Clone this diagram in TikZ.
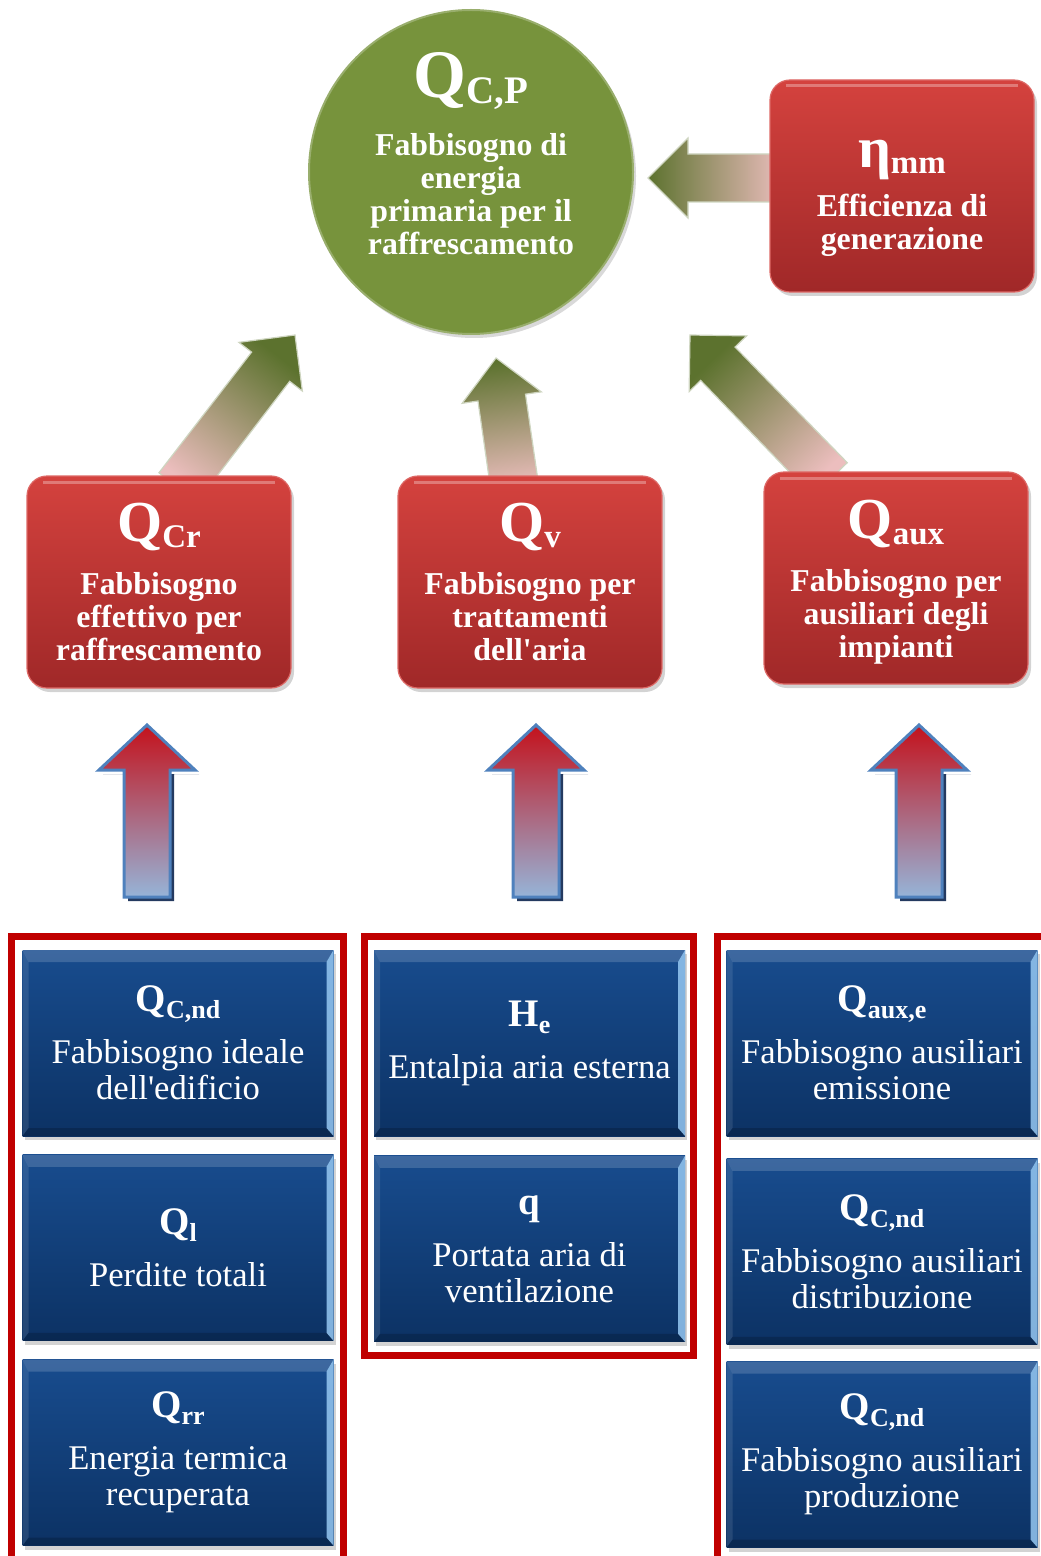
\documentclass[tikz,border=0pt]{standalone}
\usepackage{fontspec}
\setmainfont{Liberation Serif}[Ligatures=TeXOff]
\usetikzlibrary{positioning, calc, shadows, backgrounds}

\definecolor{boxred}{RGB}{212,66,62}
\definecolor{boxreddark}{RGB}{160,40,40}
\definecolor{ballgreen}{RGB}{119,147,60}
\definecolor{tipgreen}{RGB}{92,114,46}
\definecolor{tailpink}{RGB}{236,190,190}
\definecolor{boxblue}{RGB}{24,76,142}
\definecolor{boxbluedark}{RGB}{12,50,100}
\definecolor{bevellight}{RGB}{150,200,242}
\definecolor{framered}{RGB}{192,0,0}
\definecolor{upedge}{RGB}{79,129,189}
\definecolor{uplight}{RGB}{150,180,216}
\definecolor{upred}{RGB}{196,18,28}
\definecolor{upshadow}{RGB}{36,58,96}

% symbol with lowered subscript
\newcommand{\ballsym}[2]{{\fontsize{34}{34}\selectfont #1}\raisebox{-3pt}{\fontsize{19.5}{19.5}\selectfont #2}}
\newcommand{\bigsym}[2]{{\fontsize{29}{29}\selectfont #1}\raisebox{-3pt}{\fontsize{16.5}{16.5}\selectfont #2}}
\newcommand{\smallsym}[2]{{\fontsize{19.5}{19.5}\selectfont\bfseries #1}\raisebox{-3.5pt}{\fontsize{13}{13}\selectfont\bfseries #2}}

% fat shaded arrow from foot to tip
\newcommand{\greenarrow}[3]{%
  \coordinate (hb) at ($(#2)!20pt!(#1)$);
  \shade[top color=tipgreen, bottom color=tailpink, shading angle=#3,
         draw=white!70!tipgreen, line width=0.6pt, line join=miter]
    ($(#1)!12pt!90:(#2)$) -- ($(hb)!12pt!90:(#2)$) -- ($(hb)!20pt!90:(#2)$) -- (#2)
    -- ($(hb)!20pt!-90:(#2)$) -- ($(hb)!12pt!-90:(#2)$) -- ($(#1)!12pt!-90:(#2)$) -- cycle;
}

\tikzset{
  ball/.style={circle, minimum size=162pt, inner sep=0pt, fill=ballgreen,
    draw=ballgreen!75!white, line width=1pt,
    drop shadow={opacity=0.3, shadow xshift=1.5pt, shadow yshift=-2pt}},
  redtext/.style={text=white, align=center, inner sep=0pt,
    font=\fontsize{15.9}{16.5}\selectfont\bfseries},
  redbox/.style={redtext, rectangle, rounded corners=10pt, minimum width=132pt, minimum height=106pt,
    top color=boxred, bottom color=boxreddark, draw=boxred!80!white, line width=0.6pt,
    drop shadow={opacity=0.35, shadow xshift=1.5pt, shadow yshift=-2pt},
    path picture={
      \draw[white, opacity=0.3, line width=1.5pt]
        ([shift={(8pt,-3pt)}]path picture bounding box.north west)
        -- ([shift={(-8pt,-3pt)}]path picture bounding box.north east);
    }},
  bluebox/.style={rectangle, minimum width=155.5pt, minimum height=93pt, inner sep=0pt,
    top color=boxblue, bottom color=boxbluedark, text=white, align=center,
    font=\fontsize{17.3}{18}\selectfont,
    drop shadow={opacity=0.35, shadow xshift=1pt, shadow yshift=-2pt},
    path picture={
      \fill[white, opacity=0.16] (path picture bounding box.north west)
        -- (path picture bounding box.north east)
        -- ([shift={(-3.5pt,-6pt)}]path picture bounding box.north east)
        -- ([shift={(3pt,-6pt)}]path picture bounding box.north west) -- cycle;
      \fill[bevellight, opacity=0.85] (path picture bounding box.north east)
        -- (path picture bounding box.south east)
        -- ([shift={(-3.5pt,4pt)}]path picture bounding box.south east)
        -- ([shift={(-3.5pt,-6pt)}]path picture bounding box.north east) -- cycle;
      \fill[white, opacity=0.1] (path picture bounding box.north west)
        -- (path picture bounding box.south west)
        -- ([shift={(3pt,4pt)}]path picture bounding box.south west)
        -- ([shift={(3pt,-6pt)}]path picture bounding box.north west) -- cycle;
      \fill[black, opacity=0.18] (path picture bounding box.south west)
        -- (path picture bounding box.south east)
        -- ([shift={(-3.5pt,4pt)}]path picture bounding box.south east)
        -- ([shift={(3pt,4pt)}]path picture bounding box.south west) -- cycle;
    }},
  frame/.style={draw=framered, line width=3.5pt},
  uparrow/.pic={
    \fill[upshadow] (4,49) -- (52,49) -- (27,49) -- (27,176) -- (-19,176) -- (-19,49) -- (-44,49) -- cycle;
    \shade[top color=upred, bottom color=uplight, draw=upedge, line width=1.5pt]
      (0,0) -- (48,45) -- (23,45) -- (23,172) -- (-23,172) -- (-23,45) -- (-48,45) -- cycle;
  }
}

\begin{document}
\begin{tikzpicture}[x=0.5pt, y=-0.5pt]
\useasboundingbox (0,0) rectangle (1040,1556);

% top
\node[ball] (qcp) at (471,172) {};
\node[redtext] (qcptext) at (471,154) {\ballsym{Q}{C,P}\\[11pt]Fabbisogno di\\energia\\primaria per il\\raffrescamento};
\node[redbox] (eta) at (902,186) {};
\node[redtext] (etatext) at (902,198) {\bigsym{η}{mm}\\[6pt]Efficienza di\\generazione};

% middle row
\node[redbox] (qcr) at (159,582) {\bigsym{Q}{Cr}\\[10pt]Fabbisogno\\effettivo per\\raffrescamento};
\node[redbox] (qv) at (530,582) {\bigsym{Q}{v}\\[10pt]Fabbisogno per\\trattamenti\\dell'aria};
\node[redbox] (qaux) at (896,578) {};
\node[redtext] (qauxtext) at (896,582) {\bigsym{Q}{aux}\\[10pt]Fabbisogno per\\ausiliari degli\\impianti};

% arrows into the ball
\begin{scope}[on background layer]
  \coordinate (etafoot) at ($(eta.west)+(15,-8)$);
  \coordinate (etatip) at (648,178);
  \greenarrow{etafoot}{etatip}{90}
  \coordinate (crfoot) at ($(qcr.north)+(19,12)$);
  \coordinate (crtip) at (295,335);
  \greenarrow{crfoot}{crtip}{-38}
  \coordinate (vfoot) at ($(qv.north)+(-15,14)$);
  \coordinate (vtip) at (496,358);
  \greenarrow{vfoot}{vtip}{8}
  \coordinate (auxfoot) at ($(qaux.north)+(-66,8)$);
  \coordinate (auxtip) at (690,335);
  \greenarrow{auxfoot}{auxtip}{44}
\end{scope}

% up arrows
\pic at (147,725) {uparrow};
\pic at (536,725) {uparrow};
\pic at (919,725) {uparrow};

% groups
\draw[frame] (11,936) rectangle (343,1566);
\draw[frame] (364,936) rectangle (693,1355);
\draw[frame] (717,936) rectangle (1050,1566);

\node[bluebox] (cnd) at (178,1043) {\smallsym{Q}{C,nd}\\[8pt]Fabbisogno ideale\\dell'edificio};
\node[bluebox, below=9pt of cnd] (ql) {\smallsym{Q}{l}\\[8pt]Perdite totali};
\node[bluebox, below=9pt of ql] (qrr) {\smallsym{Q}{rr}\\[8pt]Energia termica\\recuperata};

\node[bluebox] (he) at (529.5,1043) {\smallsym{H}{e}\\[8pt]Entalpia aria esterna};
\node[bluebox, below=9.5pt of he] (qq) {\smallsym{q}{}\\[8pt]Portata aria di\\ventilazione};

\node[bluebox] (auxe) at (882,1043) {\smallsym{Q}{aux,e}\\[8pt]Fabbisogno ausiliari\\emissione};
\node[bluebox, below=11pt of auxe] (auxd) {\smallsym{Q}{C,nd}\\[8pt]Fabbisogno ausiliari\\distribuzione};
\node[bluebox, below=8pt of auxd] (auxp) {\smallsym{Q}{C,nd}\\[8pt]Fabbisogno ausiliari\\produzione};
\end{tikzpicture}
\end{document}
